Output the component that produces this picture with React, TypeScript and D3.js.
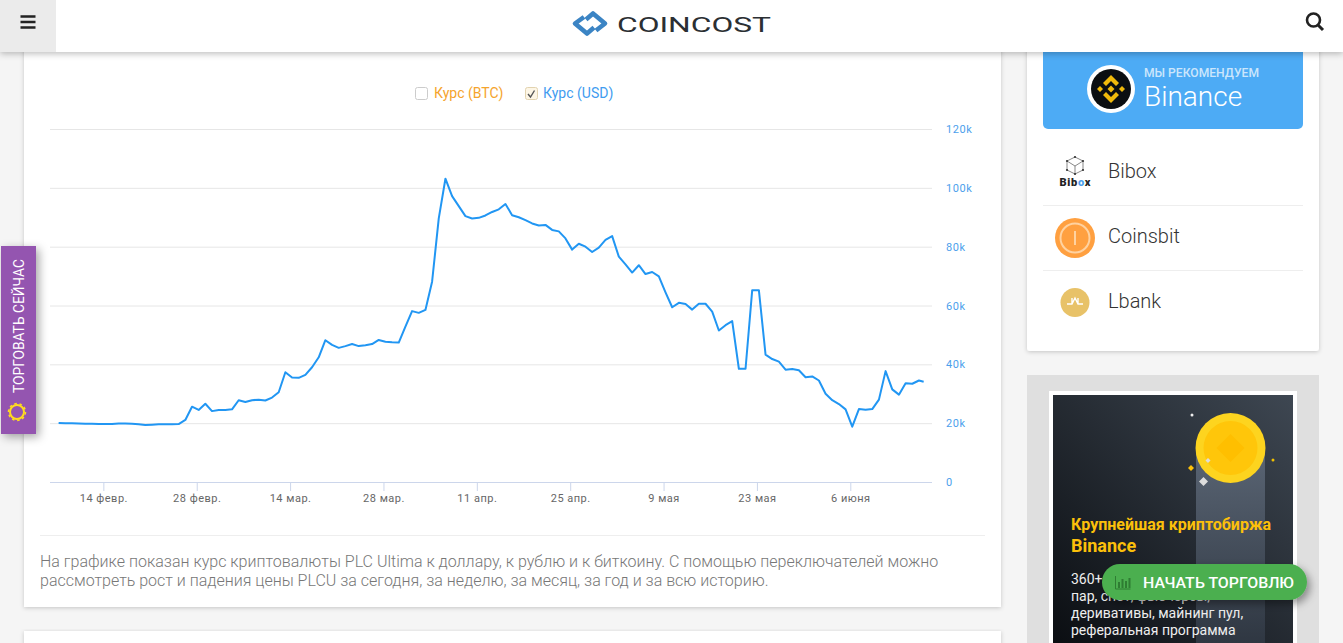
import React, { useRef, useEffect } from "react";
import * as d3 from "d3";

// USD rate, thousands, one point per day from 7 Feb
const usdValues = [
  20.2, 20.1, 20.1, 20.0, 19.9, 19.9, 19.8, 19.8, 19.8, 20.0, 20.0, 19.9, 19.7, 19.5, 19.6, 19.7, 19.7, 19.7, 19.8,
  21.2, 25.7, 24.6, 26.7, 24.2, 24.6, 24.6, 24.8, 27.9, 27.3, 27.9, 28.1, 27.8, 28.8, 30.6, 37.4, 35.6, 35.5, 36.5,
  39.1, 42.5, 48.3, 46.7, 45.7, 46.3, 47.0, 46.3, 46.6, 47.0, 48.4, 47.8, 47.6, 47.5, 52.9, 58.2, 57.6, 58.6, 68.2,
  89.7, 103.2, 97.3, 93.9, 90.5, 89.7, 89.9, 90.7, 91.9, 92.8, 94.6, 90.8, 90.1, 89.1, 88.0, 87.3, 87.5, 85.8, 85.3,
  82.9, 79.1, 81.1, 80.1, 78.3, 79.8, 82.4, 83.7, 76.7, 74.1, 71.3, 73.8, 70.8, 71.5, 70.0, 64.6, 59.5, 61.0, 60.6,
  58.7, 60.7, 60.7, 58.0, 51.6, 53.4, 54.8, 38.6, 38.6, 65.3, 65.3, 43.4, 41.9, 41.0, 38.3, 38.5, 38.1, 35.7, 36.0,
  34.6, 30.1, 27.9, 26.6, 24.8, 18.9, 24.9, 24.7, 24.9, 28.1, 37.8, 31.6, 29.8, 33.7, 33.5, 34.6, 34.2,
];
const firstPoint = new Date(2021, 1, 7, 7, 0);
const lastPoint = new Date(2021, 5, 17, 0, 0);

const xTickDates = [
  new Date(2021, 1, 14), new Date(2021, 1, 28), new Date(2021, 2, 14), new Date(2021, 2, 28), new Date(2021, 3, 11),
  new Date(2021, 3, 25), new Date(2021, 4, 9), new Date(2021, 4, 23), new Date(2021, 5, 6),
];
const xTickLabels = ["14 февр.", "28 февр.", "14 мар.", "28 мар.", "11 апр.", "25 апр.", "9 мая", "23 мая", "6 июня"];
const yTicks = [0, 20, 40, 60, 80, 100, 120];

const legendItems = ["Курс (BTC)", "Курс (USD)"];
const noteLines = [
  "На графике показан курс криптовалюты PLC Ultima к доллару, к рублю и к биткоину. С помощью переключателей можно",
  "рассмотреть рост и падения цены PLCU за сегодня, за неделю, за месяц, за год и за всю историю.",
];
const exchanges = ["Bibox", "Coinsbit", "Lbank"];
const adLines = ["360+ торговых", "пар, спот, фьючерсы,", "деривативы, майнинг пул,", "реферальная программа"];

const x = d3.scaleTime().domain([new Date(2021, 1, 6), new Date(2021, 5, 18, 6)]).range([50, 932]);
const y = d3.scaleLinear().domain([0, 120]).range([482.3, 129.3]);

const points = usdValues.map((v, i) => ({
  date: i === usdValues.length - 1 ? lastPoint : d3.timeDay.offset(firstPoint, i),
  v,
}));

const line = d3
  .line<any>()
  .x((d) => x(d.date))
  .y((d) => y(d.v));

function App() {
  const xAxisRef = useRef<any>();
  const yAxisRef = useRef<any>();

  useEffect(() => {
    const xAxis = d3
      .axisBottom(x)
      .tickValues(xTickDates)
      .tickSize(9)
      .tickPadding(3)
      .tickFormat((d, i) => xTickLabels[i]);
    const gx = d3.select(xAxisRef.current).call(xAxis as any);
    gx.select(".domain").attr("stroke", "#ccd6eb").attr("d", "M50,0.5H932");
    gx.selectAll(".tick line").attr("stroke", "#ccd6eb");
    gx.selectAll("text").attr("fill", "#666").style("font", "11px Roboto").style("letter-spacing", "0.5px");

    const yAxis = d3
      .axisRight(y)
      .tickValues(yTicks)
      .tickSize(882)
      .tickPadding(14)
      .tickFormat((d: any) => (d === 0 ? "0" : d + "k"));
    const gy = d3.select(yAxisRef.current).call(yAxis as any);
    gy.select(".domain").remove();
    gy.selectAll(".tick line").attr("stroke", "#e6e6e6").filter((d: any) => d === 0).remove();
    gy.selectAll("text").attr("fill", "#4d9fec").style("font", "11px Roboto").style("letter-spacing", "0.6px");
  }, []);

  return (
    <svg width={1343} height={643} style={{ position: "fixed", left: 0, top: 0, background: "#f5f5f5" }} fontFamily="Roboto">
      <defs>
        <filter id="card" x="-5%" y="-5%" width="110%" height="110%">
          <feDropShadow dx="0" dy="1" stdDeviation="2" floodColor="#000" floodOpacity="0.2" />
        </filter>
        <filter id="head" x="-5%" y="-20%" width="110%" height="160%">
          <feDropShadow dx="0" dy="2" stdDeviation="3" floodColor="#000" floodOpacity="0.25" />
        </filter>
        <filter id="tab" x="-50%" y="-10%" width="220%" height="120%">
          <feDropShadow dx="3" dy="3" stdDeviation="5" floodColor="#000" floodOpacity="0.35" />
        </filter>
        <filter id="btn" x="-15%" y="-40%" width="130%" height="200%">
          <feDropShadow dx="3" dy="4" stdDeviation="4" floodColor="#000" floodOpacity="0.4" />
        </filter>
        <linearGradient id="adBg" x1="0" y1="1" x2="1" y2="0">
          <stop offset="0" stopColor="#0b0e12" />
          <stop offset="1" stopColor="#3e4752" />
        </linearGradient>
        <linearGradient id="beam" x1="0" y1="0" x2="0" y2="1">
          <stop offset="0" stopColor="#5a6574" />
          <stop offset="1" stopColor="#2f3742" />
        </linearGradient>
      </defs>

      {/* main card */}
      <rect x={24} y={30} width={977} height={577} fill="#fff" filter="url(#card)" />
      <rect x={24} y={631} width={977} height={30} fill="#fff" filter="url(#card)" />

      {/* legend */}
      <rect x={415.5} y={87.5} width={12} height={12} rx={2} fill="#fff" stroke="#ccc" />
      <text x={434} y={97.5} fontSize={14} fill="#f5a42c">{legendItems[0]}</text>
      <rect x={525.5} y={87.5} width={12} height={12} rx={2} fill="#fdf6e6" stroke="#e2d3b0" />
      <path d="M528,94l2.5,3l4,-6.5" fill="none" stroke="#555" strokeWidth={1.4} />
      <text x={543} y={97.5} fontSize={14} fill="#3f9cf0">{legendItems[1]}</text>

      {/* chart */}
      <g ref={yAxisRef} transform="translate(50,-0.3)" />
      <g ref={xAxisRef} transform="translate(0,482)" />
      <path d={line(points) as string} fill="none" stroke="#2196f3" strokeWidth={2} strokeLinejoin="round" />

      <line x1={40} x2={985} y1={535.5} y2={535.5} stroke="#eee" />
      {noteLines.map((t, i) => (
        <text key={i} x={40} y={567 + i * 19} fontSize={16} fontWeight={300} fill="#777">{t}</text>
      ))}

      {/* right column */}
      <rect x={1027} y={30} width={292} height={321} rx={3} fill="#fff" filter="url(#card)" />
      <path d="M1043,40H1303V124a5,5 0 0 1 -5,5H1048a5,5 0 0 1 -5,-5Z" fill="#4dabf5" />
      <circle cx={1111} cy={89} r={24} fill="#fff" />
      <circle cx={1111} cy={89} r={20} fill="#0b0e11" />
      <g fill="#f0b90b" transform="translate(1111,89)">
        <path d="M0,-14L8,-6L5,-3L0,-8L-5,-3L-8,-6Z" />
        <path d="M0,14L8,6L5,3L0,8L-5,3L-8,6Z" />
        <path d="M-14,0L-11,-3L-8,0L-11,3Z" />
        <path d="M14,0L11,-3L8,0L11,3Z" />
        <path d="M0,-3.5L3.5,0L0,3.5L-3.5,0Z" />
      </g>
      <text x={1144} y={77} fontSize={13} fontWeight={500} fill="#cbe6fc" textLength={115} lengthAdjust="spacingAndGlyphs">МЫ РЕКОМЕНДУЕМ</text>
      <text x={1144} y={106} fontSize={28} fontWeight={300} fill="#fff">Binance</text>

      {exchanges.map((t, i) => (
        <text key={t} x={1108} y={178 + i * 65} fontSize={20} fontWeight={300} fill="#333">{t}</text>
      ))}
      <line x1={1043} x2={1303} y1={205.5} y2={205.5} stroke="#eee" />
      <line x1={1043} x2={1303} y1={270.5} y2={270.5} stroke="#eee" />

      {/* Bibox */}
      <path d="M1075,157l8,4v9l-8,4l-8,-4v-9Zm0,9l8,-5m-8,5l-8,-5m8,5v8" fill="none" stroke="#555" strokeWidth={0.7} />
      <g fill="#333">
        <circle cx={1075} cy={157} r={1.1} />
        <circle cx={1083} cy={161} r={1.1} />
        <circle cx={1067} cy={161} r={1.1} />
        <circle cx={1083} cy={170} r={1.1} />
        <circle cx={1067} cy={170} r={1.1} />
        <circle cx={1075} cy={174} r={1.1} />
      </g>
      <text x={1059.5} y={185.5} fontSize={11} fontWeight={900} fill="#222" textLength={31}>Bib<tspan fill="#4d9fec">o</tspan>x</text>
      {/* Coinsbit */}
      <circle cx={1075} cy={238} r={20} fill="#ffa040" />
      <circle cx={1075} cy={238} r={14.5} fill="none" stroke="#ffd2a0" strokeWidth={2} />
      <rect x={1074} y={231} width={2} height={14} fill="#ffd2a0" />
      {/* Lbank */}
      <circle cx={1075} cy={302.5} r={14.5} fill="#e8c268" />
      <path d="M1067,304h5l3,-6l3,6h5M1072,298v6M1078,298v6" stroke="#fff" strokeWidth={1.4} fill="none" />

      {/* ad */}
      <rect x={1027} y={375} width={292} height={268} fill="#dfdfdf" />
      <rect x={1049} y={391} width={248} height={252} fill="#fff" />
      <rect x={1053} y={395} width={240} height={248} fill="url(#adBg)" />
      <rect x={1196} y={448} width={69} height={195} fill="url(#beam)" />
      <circle cx={1230.5} cy={448} r={35} fill="#fdd41f" />
      <circle cx={1230.5} cy={448} r={27} fill="#ffc60a" />
      <path d="M1230.5,434l14,14l-14,14l-14,-14Z" fill="#ffbf00" />
      <circle cx={1192} cy={415} r={1.5} fill="#eee" />
      <circle cx={1273} cy={460} r={1.5} fill="#f0c000" />
      <path d="M1191,465l3,3l-3,3l-3,-3Z" fill="#fcc00a" />
      <path d="M1203.5,477l4.5,4.5l-4.5,4.5l-4.5,-4.5Z" fill="#ddd" />
      <path d="M1208,458l2.5,2.5l-2.5,2.5l-2.5,-2.5Z" fill="#ddd" />
      <text x={1071} y={530} fontSize={16} fontWeight={700} fill="#fcc00a">Крупнейшая криптобиржа</text>
      <text x={1071} y={552} fontSize={18} fontWeight={700} fill="#fcc00a">Binance</text>
      {adLines.map((t, i) => (
        <text key={i} x={1071} y={584 + i * 17} fontSize={14} fill="#eee">{t}</text>
      ))}

      {/* green button */}
      <rect x={1102} y={564} width={205} height={36} rx={18} fill="#4caf50" filter="url(#btn)" />
      <path d="M1115.5,576v13h15" fill="none" stroke="#2e7d32" strokeWidth={1} />
      <path d="M1119,588v-6M1122.5,588v-9M1126,588v-7M1129.5,588v-10" stroke="#2e7d32" strokeWidth={2} />
      <text x={1143} y={588} fontSize={15.5} fontWeight={500} fill="#fff" textLength={151} lengthAdjust="spacingAndGlyphs">НАЧАТЬ ТОРГОВЛЮ</text>

      {/* trade tab */}
      <rect x={1} y={246} width={35} height={188} fill="#9454b0" filter="url(#tab)" />
      <text transform="translate(24,393) rotate(-90)" fontSize={14} fill="#fff" textLength={134} lengthAdjust="spacingAndGlyphs">ТОРГОВАТЬ СЕЙЧАС</text>
      <circle cx={17} cy={412} r={7} fill="none" stroke="#ffdc1e" strokeWidth={2} />
      <circle cx={17} cy={412} r={8.5} fill="none" stroke="#ffdc1e" strokeWidth={1.5} strokeDasharray="2.5 2.8" />

      {/* header */}
      <rect x={0} y={0} width={1343} height={52} fill="#fff" filter="url(#head)" />
      <rect x={0} y={0} width={56} height={52} fill="#ebebeb" />
      <path d="M20.5,16.5h15M20.5,22h15M20.5,27.5h15" stroke="#222" strokeWidth={2.6} />
      <g fill="none" stroke="#3b84c4" strokeWidth={4.6} strokeLinejoin="round">
        <path d="M584,17L575,23.5L587,33.5L594,27.5" />
        <path d="M596,30.5L605,23.5L593,13.5L586,19.5" />
      </g>
      <text x={617} y={31.7} fontSize={21} fill="#2b2f33" textLength={154} lengthAdjust="spacingAndGlyphs">COINCOST</text>
      <circle cx={1313.5} cy={20} r={6.5} fill="none" stroke="#222" strokeWidth={2.6} />
      <line x1={1318} y1={25} x2={1323} y2={30} stroke="#222" strokeWidth={3} />
    </svg>
  );
}

export default App;
